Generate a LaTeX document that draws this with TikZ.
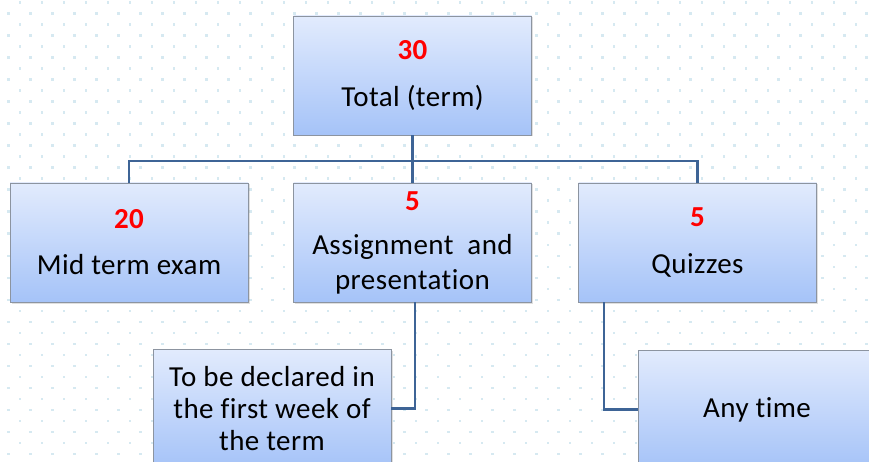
\documentclass[tikz,border=0pt]{standalone}
\usepackage{fontspec}
\setmainfont{Carlito}[Ligatures=CommonOff, LetterSpace=1.5]
\usetikzlibrary{shadows}
\definecolor{boxtop}{RGB}{226,235,253}
\definecolor{boxbottom}{RGB}{165,195,248}
\definecolor{boxline}{RGB}{140,148,160}
\definecolor{linkblue}{RGB}{62,100,150}
\definecolor{numred}{RGB}{255,0,0}
\definecolor{dotblue}{RGB}{214,233,241}
\tikzset{
  markbox/.style = {draw=boxline, line width=0.8pt, top color=boxtop, bottom color=boxbottom,
    minimum width=238pt, minimum height=119pt, align=center, inner sep=2pt,
    font=\fontsize{29}{35}\selectfont,
    drop shadow={shadow xshift=1.5pt, shadow yshift=-1.5pt, opacity=0.25}},
  link/.style = {draw=linkblue, line width=2.6pt}
}
\newcommand{\scorenum}[1]{\textcolor{numred}{\bfseries #1}}
\begin{document}
\begin{tikzpicture}[x=1pt, y=-1pt]
\clip (0,0) rectangle (869,462);
\fill[white] (0,0) rectangle (869,462);
% dotted background
\foreach \r in {0,...,41}
  \foreach \c in {0,...,39}
    \fill[dotblue] ({7.1+11.7*mod(\r+1,2)+22*\c}, {1.5+11*\r}) rectangle ++(2.4,2.4);

\node[markbox] (total)    at (412.5, 75.5) {\scorenum{30}\\[12pt]Total (term)};
\node[markbox] (midterm)  at (129, 242.5)  {\scorenum{20}\\[11pt]Mid term exam};
\node[markbox] (assign)   at (412.5, 242.5){\scorenum{5}\\[9pt]Assignment~ and\\presentation};
\node[markbox] (quiz)     at (697.5, 242.5){\scorenum{5}\\[12pt]Quizzes};
\node[markbox, font=\fontsize{29}{32}\selectfont] (declared) at (272, 408.5)
  {To~be declared~in\\the first~week~of\\the term};
\node[markbox] (anytime)  at (757, 409.5)  {Any time};

\coordinate (bus) at (412.5, 161);
\draw[link] (total.south) -- (bus);
\draw[link] (bus) -| (midterm.north);
\draw[link] (bus) -- (assign.north);
\draw[link] (bus) -| (quiz.north);
%\draw[link] (assign.south) -- (declared.north);
\draw[link] ([xshift=2.5pt]assign.south) |- (declared.east);
\draw[link] ([xshift=26pt]quiz.south west) |- (anytime.west);
\end{tikzpicture}
\end{document}
